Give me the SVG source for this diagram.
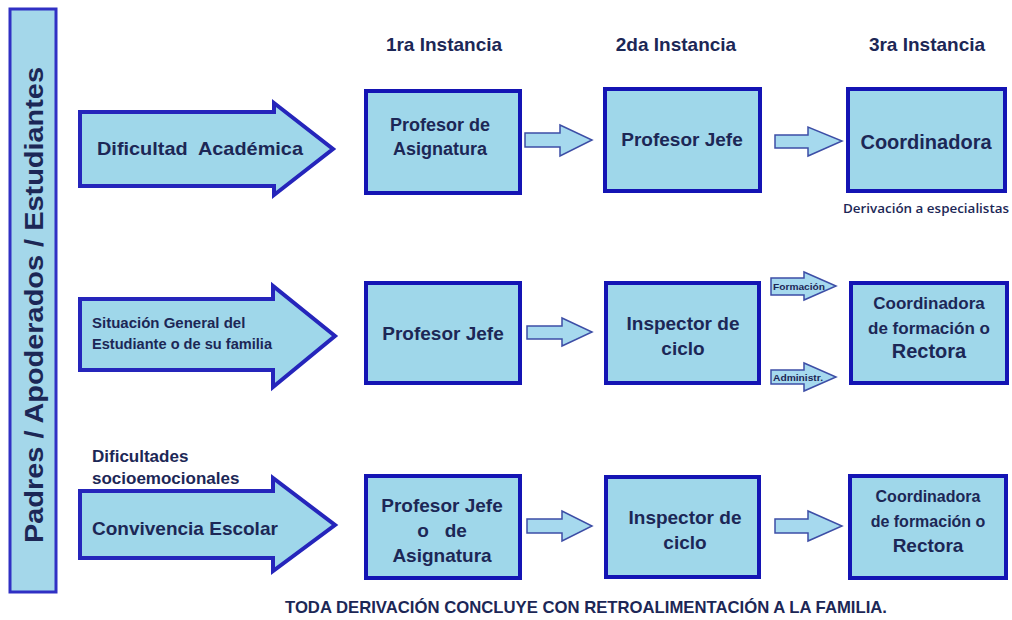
<svg xmlns="http://www.w3.org/2000/svg" width="1012" height="620" viewBox="0 0 1012 620">
<style>
.t{font-family:"Liberation Sans",Arial,sans-serif;font-weight:bold;fill:#1c2756}
.c{text-anchor:middle}
.box{fill:#9fd7ea;stroke:#1414b4;stroke-width:4}
.big{fill:#9fd7ea;stroke:#2525bb;stroke-width:4;stroke-linejoin:miter}
.sm{fill:#a6d9ee;stroke:#3d4ea6;stroke-width:1.5}
.side{fill:#a4d7ea;stroke:#3030c4;stroke-width:3}
</style>
<rect width="1012" height="620" fill="#ffffff"/>
<g id="side">
<rect class="side" x="10" y="9" width="46" height="583"/>
<text class="t c" transform="translate(43,305) rotate(-90)" font-size="26" textLength="476" lengthAdjust="spacingAndGlyphs">Padres / Apoderados / Estudiantes</text>
</g>
<g id="headers">
<text class="t c" x="444" y="51" font-size="19">1ra Instancia</text>
<text class="t c" x="676" y="51" font-size="19">2da Instancia</text>
<text class="t c" x="927" y="51" font-size="19">3ra Instancia</text>
</g>
<g id="in1">
<polygon class="big" points="80,112 274,112 274,103 333,149 274,195 274,186 80,186"/>
<text class="t" x="97" y="155" font-size="19" style="white-space:pre" textLength="206" lengthAdjust="spacingAndGlyphs">Dificultad  Académica</text>
</g>
<g id="in2">
<polygon class="big" points="80,299 273,299 273,286 335,336 273,387 273,370 80,370"/>
<text class="t" x="92" y="328" font-size="15">Situación General del</text>
<text class="t" x="92" y="349" font-size="15" textLength="180" lengthAdjust="spacingAndGlyphs">Estudiante o de su familia</text>
</g>
<g id="in3">
<text class="t" x="92" y="462" font-size="17">Dificultades</text>
<text class="t" x="92" y="484" font-size="17">socioemocionales</text>
<polygon class="big" points="80,491 273,491 273,478 335,525 273,571 273,558 80,558"/>
<text class="t" x="92" y="535" font-size="19">Convivencia Escolar</text>
</g>
<g id="r1b1">
<rect class="box" x="366" y="91" width="154" height="102"/>
<text class="t c" x="440" y="131" font-size="18">Profesor de</text>
<text class="t c" x="440" y="155" font-size="18">Asignatura</text>
</g>
<g id="r1b2">
<rect class="box" x="605" y="89" width="155" height="102"/>
<text class="t c" x="682" y="146" font-size="19">Profesor Jefe</text>
</g>
<g id="r1b3">
<rect class="box" x="848" y="89" width="157" height="102"/>
<text class="t c" x="926" y="149" font-size="20">Coordinadora</text>
<text x="926" y="213" text-anchor="middle" font-family="'Open Sans',sans-serif" font-weight="600" font-size="13" fill="#1c2756" textLength="166" lengthAdjust="spacingAndGlyphs">Derivación a especialistas</text>
</g>
<g id="r2b1">
<rect class="box" x="366" y="283" width="154" height="100"/>
<text class="t c" x="443" y="340" font-size="19">Profesor Jefe</text>
</g>
<g id="r2b2">
<rect class="box" x="606" y="283" width="153" height="100"/>
<text class="t c" x="683" y="330" font-size="19">Inspector de</text>
<text class="t c" x="683" y="355" font-size="19">ciclo</text>
</g>
<g id="r2b3">
<rect class="box" x="851" y="283" width="156" height="100"/>
<text class="t c" x="929" y="309" font-size="17">Coordinadora</text>
<text class="t c" x="929" y="334" font-size="17">de formación o</text>
<text class="t c" x="929" y="358" font-size="20">Rectora</text>
</g>
<g id="r3b1">
<rect class="box" x="366" y="476" width="154" height="102"/>
<text class="t c" x="442" y="512" font-size="19">Profesor Jefe</text>
<text class="t c" x="442" y="537" font-size="19" style="white-space:pre">o   de</text>
<text class="t c" x="442" y="562" font-size="19">Asignatura</text>
</g>
<g id="r3b2">
<rect class="box" x="606" y="477" width="153" height="100"/>
<text class="t c" x="685" y="524" font-size="19">Inspector de</text>
<text class="t c" x="685" y="549" font-size="19">ciclo</text>
</g>
<g id="r3b3">
<rect class="box" x="850" y="476" width="156" height="102"/>
<text class="t c" x="928" y="502" font-size="16">Coordinadora</text>
<text class="t c" x="928" y="527" font-size="16">de formación o</text>
<text class="t c" x="928" y="552" font-size="19">Rectora</text>
</g>
<g id="connectors">
<polygon class="sm" points="525,133 560,133 560,125 592,140 560,156 560,147 525,147"/>
<polygon class="sm" points="775,135 808,135 808,127 842,141 808,156 808,148 775,148"/>
<polygon class="sm" points="527,326 562,326 562,318 592,332 562,346 562,339 527,339"/>
<polygon class="sm" points="771,278 804,278 804,272 836,286 804,300 804,295 771,295"/>
<text class="t" x="773" y="290" font-size="9" textLength="52" lengthAdjust="spacingAndGlyphs">Formación</text>
<polygon class="sm" points="771,370 804,370 804,363 836,377 804,391 804,384 771,384"/>
<text class="t" x="773" y="381" font-size="9" textLength="50" lengthAdjust="spacingAndGlyphs">Administr.</text>
<polygon class="sm" points="527,519 562,519 562,511 592,526 562,541 562,533 527,533"/>
<polygon class="sm" points="775,519 808,519 808,511 842,526 808,541 808,533 775,533"/>
</g>
<text class="t c" x="586" y="613" font-size="17" textLength="602" lengthAdjust="spacingAndGlyphs">TODA DERIVACIÓN CONCLUYE CON RETROALIMENTACIÓN A LA FAMILIA.</text>
</svg>
